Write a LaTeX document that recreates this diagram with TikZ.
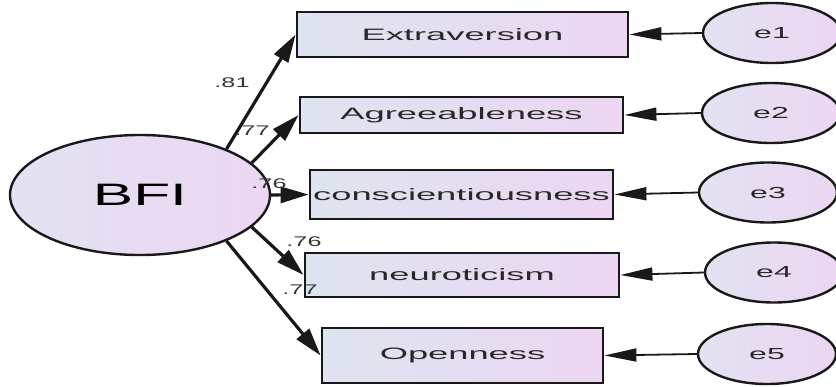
\documentclass[tikz,border=0pt]{standalone}
\usepackage{fontspec}
\setmainfont{Liberation Sans}
\usetikzlibrary{shapes.geometric,arrows.meta}
\definecolor{boxL}{RGB}{222,228,240}
\definecolor{boxR}{RGB}{236,214,242}
\definecolor{ellL}{RGB}{226,226,242}
\definecolor{ellR}{RGB}{236,214,242}
\definecolor{edgeC}{RGB}{25,25,25}
\definecolor{txtC}{RGB}{40,40,40}
\definecolor{lblC}{RGB}{55,55,55}
\tikzset{
  obsbox/.style={rectangle,draw=edgeC,line width=2.8pt,left color=boxL,right color=boxR,
    inner sep=0pt,text=txtC,font=\fontsize{16.5}{18}\selectfont},
  latent/.style={ellipse,draw=edgeC,line width=2.4pt,left color=ellL,right color=ellR,
    inner sep=0pt,minimum width=260pt,minimum height=120pt,text=black,font=\fontsize{31}{33}\selectfont},
  errnode/.style={ellipse,draw=edgeC,line width=2.4pt,left color=ellL,right color=ellR,
    inner sep=0pt,minimum width=138pt,minimum height=60pt,text=txtC,font=\fontsize{16}{18}\selectfont},
  loadarrow/.style={draw=edgeC,line width=3.2pt,-{Triangle[length=28pt,width=16pt]}},
  errarrow/.style={draw=edgeC,line width=1.8pt,-{Triangle[length=32pt,width=13pt]}},
  coef/.style={text=lblC,inner sep=0pt,font=\fontsize{14}{16}\selectfont}
}
\newcommand{\hs}[2]{\scalebox{#1}[1]{#2}}
\begin{document}
\begin{tikzpicture}[x=1pt,y=-1pt]
\useasboundingbox[fill=white] (0,0) rectangle (836,386);
% latent
\node[latent] (bfi) at (140,195) {\hs{1.95}{BFI}};
% observed
\node[obsbox,minimum width=331pt,minimum height=45pt] (ext) at (462.5,34.5) {\hs{2.2}{Extraversion}};
\node[obsbox,minimum width=323pt,minimum height=36pt] (agr) at (461.5,115) {\hs{2.2}{Agreeableness}};
\node[obsbox,minimum width=303pt,minimum height=49pt] (con) at (461.5,194.5) {\hs{2.2}{conscientiousness}};
\node[obsbox,minimum width=314pt,minimum height=44pt] (neu) at (462,275) {\hs{2.2}{neuroticism}};
\node[obsbox,minimum width=281pt,minimum height=55pt] (ope) at (462.5,355.5) {\hs{2.2}{Openness}};
% errors
\node[errnode] (e1) at (772,33) {\hs{2.0}{e1}};
\node[errnode] (e2) at (771,113) {\hs{2.0}{e2}};
\node[errnode] (e3) at (768,192.5) {\hs{2.0}{e3}};
\node[errnode] (e4) at (774,272.5) {\hs{2.0}{e4}};
\node[errnode] (e5) at (767,354) {\hs{2.0}{e5}};
% loadings
\draw[loadarrow] (bfi.28) -- (ext.west);
\draw[loadarrow] (bfi.16) -- (agr.west);
\draw[loadarrow] (bfi.0) -- (con.west);
\draw[loadarrow] (bfi.-16) -- (neu.west);
\draw[loadarrow] (bfi.-28) -- (ope.west);
% error arrows
\draw[errarrow] (e1.west) -- (ext.east);
\draw[errarrow] (e2.west) -- (agr.east);
\draw[errarrow] (e3.west) -- (con.east);
\draw[errarrow] (e4.west) -- (neu.east);
\draw[errarrow] (e5.west) -- (ope.east);
% coefficients
\node[coef] (c1) at (232,83) {\hs{1.8}{.81}};
\node[coef] (c2) at (252,131) {\hs{1.8}{.77}};
\node[coef] (c3) at (269,184) {\hs{1.8}{.76}};
\node[coef] (c4) at (304,242) {\hs{1.8}{.76}};
\node[coef] (c5) at (300,290) {\hs{1.8}{.77}};
\end{tikzpicture}
\end{document}
